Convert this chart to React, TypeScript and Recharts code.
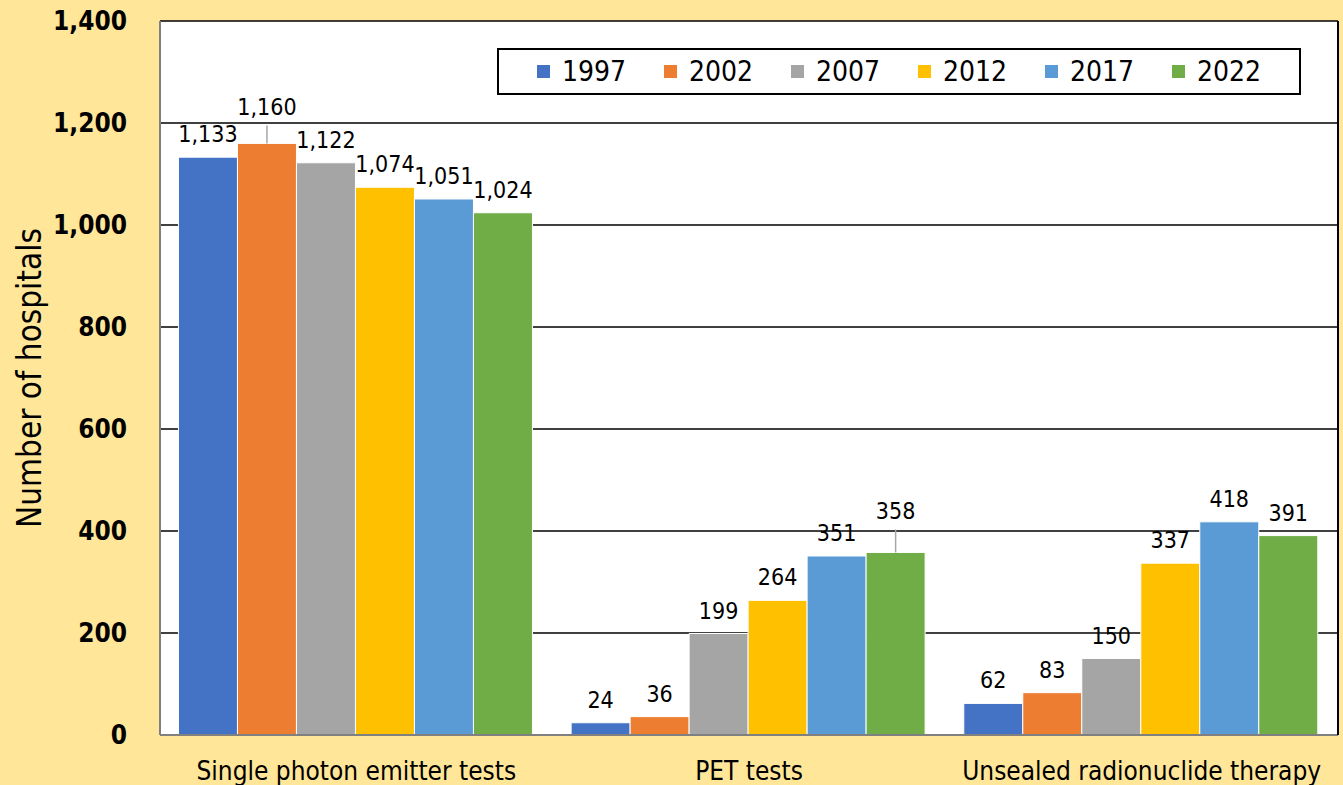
import React from 'react';
import { BarChart, Bar, XAxis, YAxis, CartesianGrid, LabelList } from 'recharts';

const categories = ['Single photon emitter tests', 'PET tests', 'Unsealed radionuclide therapy'];
const years = ['1997', '2002', '2007', '2012', '2017', '2022'];
const colors = ['#4472C4', '#ED7D31', '#A5A5A5', '#FFC000', '#5B9BD5', '#70AD47'];

const v1997 = [1133, 24, 62];
const v2002 = [1160, 36, 83];
const v2007 = [1122, 199, 150];
const v2012 = [1074, 264, 337];
const v2017 = [1051, 351, 418];
const v2022 = [1024, 358, 391];

const yTicks = [0, 200, 400, 600, 800, 1000, 1200, 1400];

// labels that Excel pushed up and tied back to the bar with a leader line
const raised = ['2002|Single photon emitter tests', '2022|PET tests'];

const series = [v1997, v2002, v2007, v2012, v2017, v2022];
const data = categories.map((name, i) => {
  const row: any = { name };
  years.forEach((y, k) => (row[y] = series[k][i]));
  return row;
});

const FONT = '"Liberation Sans Narrow", "DejaVu Sans Condensed", Carlito, "Liberation Sans", sans-serif';

const fmt = (v: number) => v.toLocaleString('en-US');

const makeLabel = (year: string) => (props: any) => {
  const { x, y, width, value, index } = props;
  const cx = x + width / 2;
  const key = `${year}|${categories[index]}`;
  if (raised.includes(key)) {
    const lift = index === 0 ? 28 : 33;
    return (
      <g>
        <line x1={cx} x2={cx} y1={y} y2={y - lift + 10} stroke="#A6A6A6" strokeWidth={1.5} />
        <text x={cx} y={y - lift} textAnchor="middle" fontSize={23} fontFamily={FONT} fill="#000">
          {fmt(value)}
        </text>
      </g>
    );
  }
  return (
    <text x={cx} y={y - 15} textAnchor="middle" fontSize={23} fontFamily={FONT} fill="#000">
      {fmt(value)}
    </text>
  );
};

const LegendBox = () => (
  <div
    style={{
      position: 'absolute',
      left: 497,
      top: 48,
      width: 804,
      height: 47,
      border: '2px solid #000',
      background: '#fff',
      display: 'flex',
      alignItems: 'center',
      paddingLeft: 38,
      boxSizing: 'border-box',
      fontFamily: FONT,
    }}
  >
    {years.map((y, i) => (
      <div key={y} style={{ display: 'flex', alignItems: 'center', width: 129 }}>
        <span style={{ width: 13, height: 13, background: colors[i], display: 'inline-block', marginRight: 12 }} />
        <span style={{ fontSize: 28, color: '#000' }}>{y}</span>
      </div>
    ))}
  </div>
);

export default function App() {
  return (
    <div style={{ position: 'absolute', left: 0, top: 0, width: 1343, height: 785, background: '#FFE699', overflow: 'hidden' }}>
      <BarChart
        width={1343}
        height={785}
        data={data}
        margin={{ top: 21, right: 3, bottom: 0, left: 0 }}
        barGap={0}
        barCategoryGap="4.7%"
      >
        <CartesianGrid vertical={false} fill="#fff" stroke="#000" strokeWidth={1.5} />
        <XAxis
          dataKey="name"
          height={50}
          tickLine={false}
          tickSize={0}
          tickMargin={27}
          axisLine={{ stroke: '#808080', strokeWidth: 2 }}
          tick={{ fill: '#000', fontSize: 26, fontFamily: FONT }}
        />
        <YAxis
          width={160}
          domain={[0, 1400]}
          ticks={yTicks}
          tickFormatter={fmt}
          tickLine={false}
          tickSize={0}
          tickMargin={33}
          axisLine={{ stroke: '#808080', strokeWidth: 2 }}
          tick={{ fill: '#000', fontSize: 26, fontWeight: 700, fontFamily: FONT }}
          label={{
            value: 'Number of hospitals',
            angle: -90,
            position: 'insideLeft',
            offset: 29,
            style: { textAnchor: 'middle', fill: '#000', fontSize: 33, fontFamily: FONT },
          }}
        />
        <YAxis
          yAxisId="right"
          orientation="right"
          width={2}
          domain={[0, 1400]}
          tick={false}
          tickLine={false}
          axisLine={{ stroke: '#000', strokeWidth: 2 }}
        />
        {years.map((y, i) => (
          <Bar key={y} dataKey={y} fill={colors[i]} stroke="#fff" strokeWidth={1} isAnimationActive={false}>
            <LabelList dataKey={y} content={makeLabel(y)} />
          </Bar>
        ))}
      </BarChart>
      <LegendBox />
    </div>
  );
}
